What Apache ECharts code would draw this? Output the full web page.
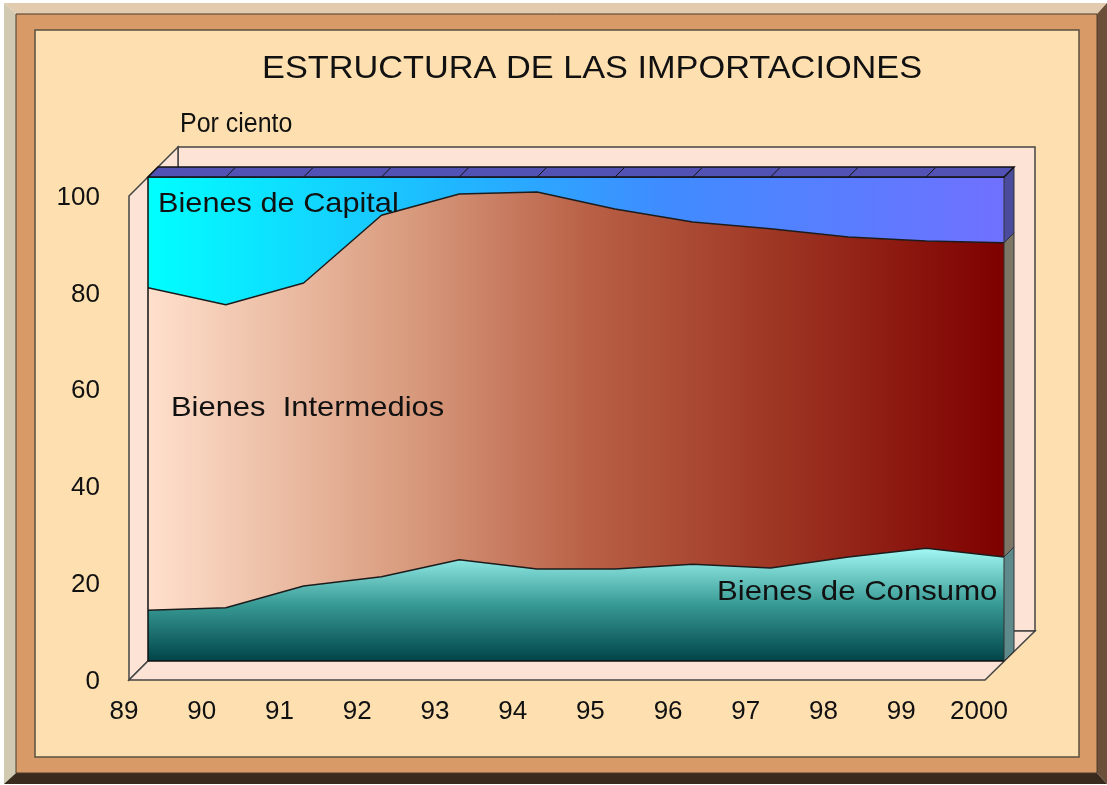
<!DOCTYPE html>
<html><head><meta charset="utf-8">
<style>html,body{margin:0;padding:0;background:#fff}#c{width:1107px;height:785px}</style>
<script src="https://cdn.jsdelivr.net/npm/echarts@6/dist/echarts.min.js"></script>
</head><body><div id="c"></div>
<script>
const years = ['89','90','91','92','93','94','95','96','97','98','99','2000'];
const consumo = [10.5,11.0,15.5,17.4,20.9,19.0,19.0,20.0,19.2,21.5,23.3,21.5];
const intermedios = [66.6,62.6,62.6,74.7,75.6,77.9,74.4,70.7,70.1,66.1,63.5,64.9];
const capital = [22.9,26.4,21.9,7.9,3.5,3.1,6.6,9.3,10.7,12.4,13.2,13.6];

const FONT = '"Liberation Sans", Arial, sans-serif';
const LINE = '#1c1c1c', WALL = '#fde2d6', EDGE = '#444';

function poly(points, fill, stroke, z, lw){
  return {type:'polygon', silent:true, z:z, shape:{points}, style:{fill, stroke:stroke||null, lineWidth:lw||1}};
}
function txt(text, x, y, size, sx){
  return {type:'text', silent:true, z:100, x:x, y:y, scaleX:sx, scaleY:1,
    style:{text:text, fill:'#111', font:'normal '+size+'px '+FONT, textAlign:'left', textVerticalAlign:'middle'}};
}
const decor = [
  poly([[4,3],[1107,3],[1097,14],[16,14]], '#e2cbae', null, -10),
  poly([[4,3],[16,14],[16,773],[4,784]], '#d1c9b1', null, -10),
  poly([[1107,3],[1107,784],[1097,773],[1097,14]], '#6b4f38', null, -10),
  poly([[4,784],[16,773],[1097,773],[1107,784]], '#3a2a1e', null, -10),
  {type:'rect', silent:true, z:-9, shape:{x:16,y:14,width:1081,height:759}, style:{fill:'#d89b68', stroke:'#4a3a2c', lineWidth:1}},
  {type:'rect', silent:true, z:-8, shape:{x:35,y:30,width:1044,height:727}, style:{fill:'#fee0b0', stroke:'#5a5040', lineWidth:1.5}},
  {type:'rect', silent:true, z:-7, shape:{x:178,y:147,width:857,height:484}, style:{fill:WALL, stroke:EDGE, lineWidth:1.5}},
  poly([[129,196],[178,147],[178,631],[129,680]], WALL, EDGE, -6, 1.5),
  poly([[129,680],[178,631],[1035,631],[985,680]], WALL, EDGE, -6, 1.5),
  txt('ESTRUCTURA DE LAS IMPORTACIONES', 262, 69, 32, 1.072),
  txt('Por ciento', 180, 125, 27, 0.925),
  txt('Bienes de Capital', 158, 204, 28, 1.097),
  txt('Bienes  Intermedios', 171, 408, 28, 1.104),
  txt('Bienes de Consumo', 717, 592, 28, 1.112)
];

const DEPTH = 10;
const last = years.length - 1;
const capSide = '#4b4b9e', intSide = '#7d7566', conSide = '#5f8a8c', capTop = '#5252b4';

const option = {
  animation:false,
  backgroundColor:'#fff',
  grid:[
    {left:148, top:177, width:856, height:484},
    {left:124, top:197.5, width:855, height:484.5}
  ],
  xAxis:[
    {type:'category', gridIndex:0, data:years, boundaryGap:false, show:false},
    {type:'category', gridIndex:1, data:years, boundaryGap:false,
     axisLine:{show:false}, axisTick:{show:false}, splitLine:{show:false},
     axisLabel:{interval:0, color:'#111', fontFamily:FONT, fontSize:26, margin:17}}
  ],
  yAxis:[
    {type:'value', gridIndex:0, min:0, max:100, show:false},
    {type:'value', gridIndex:1, min:0, max:100, interval:20,
     axisLine:{show:false}, axisTick:{show:false}, splitLine:{show:false},
     axisLabel:{color:'#111', fontFamily:FONT, fontSize:26, margin:24}}
  ],
  graphic:{elements:decor},
  series:[
    {name:'Bienes de Consumo', type:'line', stack:'t', data:consumo, symbol:'none', smooth:false,
     lineStyle:{color:LINE, width:1.5},
     areaStyle:{opacity:1, color:{type:'linear',x:0,y:0,x2:0,y2:1,colorStops:[
       {offset:0,color:'#a2f8f4'},{offset:.5,color:'#389a94'},{offset:1,color:'#004448'}]}}},
    {name:'Bienes Intermedios', type:'line', stack:'t', data:intermedios, symbol:'none', smooth:false,
     lineStyle:{color:LINE, width:1.5},
     areaStyle:{opacity:1, color:{type:'linear',x:0,y:0,x2:1,y2:0,colorStops:[
       {offset:0,color:'#ffe0cc'},{offset:.3,color:'#d99c7f'},{offset:.52,color:'#b85f45'},{offset:.75,color:'#9c3321'},{offset:1,color:'#7e0000'}]}}},
    {name:'Bienes de Capital', type:'line', stack:'t', data:capital, symbol:'none', smooth:false,
     lineStyle:{color:LINE, width:1.5},
     areaStyle:{opacity:1, color:{type:'linear',x:0,y:0,x2:1,y2:0,colorStops:[
       {offset:0,color:'#00ffff'},{offset:.35,color:'#1fb8ff'},{offset:.6,color:'#3f8cff'},{offset:1,color:'#7070ff'}]}}},
    {type:'custom', name:'3D edge', silent:true, z:5, coordinateSystem:'cartesian2d', xAxisIndex:0, yAxisIndex:0,
     data:[[0]], encode:{x:0},
     renderItem:function(params, api){
       const xr = api.coord([last,0])[0], xl = api.coord([0,0])[0];
       const yAt = v => api.coord([0,v])[1];
       const y0 = yAt(0), y1 = yAt(consumo[last]), y2 = yAt(consumo[last]+intermedios[last]), y3 = yAt(100);
       const side = (a,b,c) => ({type:'polygon', shape:{points:[[xr,a],[xr+DEPTH,a-DEPTH],[xr+DEPTH,b-DEPTH],[xr,b]]},
         style:{fill:c, stroke:'#333', lineWidth:1}});
       const children = [
         side(y1,y0,conSide), side(y2,y1,intSide), side(y3,y2,capSide),
         {type:'polygon', shape:{points:[[xl,y3],[xl+DEPTH,y3-DEPTH],[xr+DEPTH,y3-DEPTH],[xr,y3]]},
          style:{fill:capTop, stroke:'#111', lineWidth:1.5}},
         {type:'line', shape:{x1:xl,y1:y3,x2:xl,y2:y0}, style:{stroke:'#111', lineWidth:1.5}},
         {type:'line', shape:{x1:xl,y1:y0,x2:xr,y2:y0}, style:{stroke:'#111', lineWidth:1.5}}
       ];
       years.forEach((_,i)=>{
         if(i===0||i===last) return;
         const x = api.coord([i,0])[0];
         children.push({type:'line', shape:{x1:x,y1:y3,x2:x+DEPTH-1,y2:y3-DEPTH+1}, style:{stroke:'#111', lineWidth:1}});
       });
       return {type:'group', children};
     }}
  ]
};
echarts.init(document.getElementById('c')).setOption(option);
</script></body></html>
